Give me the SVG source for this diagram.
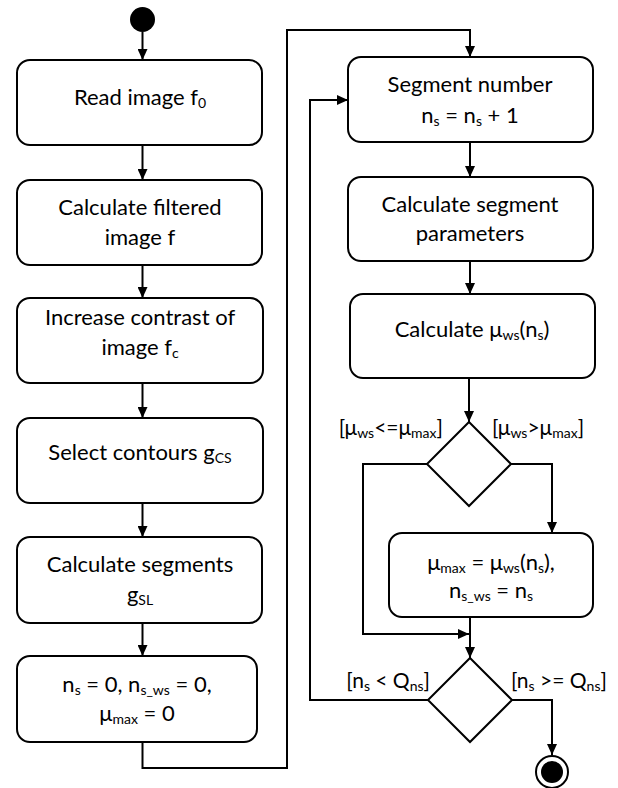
<svg xmlns="http://www.w3.org/2000/svg" width="618" height="788" viewBox="0 0 618 788">
<style>
.box{fill:#fff;stroke:#000;stroke-width:2}
.dia{fill:#fff;stroke:#000;stroke-width:2}
.t{font-family:Lato,"Open Sans","Liberation Sans",sans-serif;font-size:22px;fill:#000;text-anchor:middle}
.lbl{font-family:Lato,"Open Sans","Liberation Sans",sans-serif;font-size:21px;fill:#000}
.s{font-size:14px}
.c{fill:none;stroke:#000;stroke-width:2}
</style>
<defs>
<marker id="arr" markerUnits="userSpaceOnUse" markerWidth="11" markerHeight="10" refX="11" refY="5" orient="auto">
<path d="M0,0 L11,5 L0,10 z" fill="#000"/>
</marker>
</defs>
<g id="connectors">
<path class="c" d="M142.5,32 V60" marker-end="url(#arr)"/>
<path class="c" d="M142.5,145 V180" marker-end="url(#arr)"/>
<path class="c" d="M142.5,265 V298" marker-end="url(#arr)"/>
<path class="c" d="M142.5,383 V418" marker-end="url(#arr)"/>
<path class="c" d="M142.5,503 V537" marker-end="url(#arr)"/>
<path class="c" d="M142.5,623 V656" marker-end="url(#arr)"/>
<path class="c" d="M142.5,742 V768 H287 V30 H470 V57" marker-end="url(#arr)"/>
<path class="c" d="M470,142 V177" marker-end="url(#arr)"/>
<path class="c" d="M470,261 V294" marker-end="url(#arr)"/>
<path class="c" d="M469,378 V422" marker-end="url(#arr)"/>
<path class="c" d="M511,464 H552 V533" marker-end="url(#arr)"/>
<path class="c" d="M427,464 H363 V634 H469" marker-end="url(#arr)"/>
<path class="c" d="M470,617 V658" marker-end="url(#arr)"/>
<path class="c" d="M428,700 H310 V100 H348" marker-end="url(#arr)"/>
<path class="c" d="M512,700 H552 V755" marker-end="url(#arr)"/>
<text class="lbl" x="443" y="435" text-anchor="end">[μ<tspan class="s" dy="3">ws</tspan><tspan dy="-3">&lt;=μ</tspan><tspan class="s" dy="3">max</tspan><tspan dy="-3">]</tspan></text>
<text class="lbl" x="492" y="435">[μ<tspan class="s" dy="3">ws</tspan><tspan dy="-3">&gt;μ</tspan><tspan class="s" dy="3">max</tspan><tspan dy="-3">]</tspan></text>
<text class="lbl" x="430" y="688" text-anchor="end">[n<tspan class="s" dy="3">s</tspan><tspan dy="-3"> &lt; Q</tspan><tspan class="s" dy="3">ns</tspan><tspan dy="-3">]</tspan></text>
<text class="lbl" x="511" y="688">[n<tspan class="s" dy="3">s</tspan><tspan dy="-3"> &gt;= Q</tspan><tspan class="s" dy="3">ns</tspan><tspan dy="-3">]</tspan></text>
</g>
<g id="start"><circle cx="142.5" cy="19.5" r="12.5" fill="#000"/></g>
<g id="read">
<rect class="box" x="17" y="60" width="245" height="85" rx="13"/>
<text class="t" x="140" y="105">Read image f<tspan class="s" dy="3">0</tspan></text>
</g>
<g id="filter">
<rect class="box" x="17" y="180" width="245" height="85" rx="13"/>
<text class="t" x="140" y="215">Calculate filtered</text>
<text class="t" x="140" y="245">image f</text>
</g>
<g id="contrast">
<rect class="box" x="17" y="298" width="246" height="85" rx="13"/>
<text class="t" x="140" y="325">Increase contrast of</text>
<text class="t" x="140" y="355">image f<tspan class="s" dy="3">c</tspan></text>
</g>
<g id="contours">
<rect class="box" x="17" y="418" width="246" height="85" rx="13"/>
<text class="t" x="140" y="460">Select contours g<tspan class="s" dy="3">CS</tspan></text>
</g>
<g id="segments">
<rect class="box" x="17" y="537" width="245" height="86" rx="13"/>
<text class="t" x="140" y="572">Calculate segments</text>
<text class="t" x="140" y="602">g<tspan class="s" dy="3">SL</tspan></text>
</g>
<g id="init">
<rect class="box" x="17" y="656" width="240" height="86" rx="13"/>
<text class="t" x="137" y="692">n<tspan class="s" dy="3">s</tspan><tspan dy="-3"> = 0, n</tspan><tspan class="s" dy="3">s_ws</tspan><tspan dy="-3"> = 0,</tspan></text>
<text class="t" x="137" y="721">μ<tspan class="s" dy="3">max</tspan><tspan dy="-3"> = 0</tspan></text>
</g>
<g id="segnum">
<rect class="box" x="348" y="57" width="245" height="85" rx="13"/>
<text class="t" x="470" y="92">Segment number</text>
<text class="t" x="470" y="123">n<tspan class="s" dy="3">s</tspan><tspan dy="-3"> = n</tspan><tspan class="s" dy="3">s</tspan><tspan dy="-3"> + 1</tspan></text>
</g>
<g id="params">
<rect class="box" x="348" y="177" width="245" height="84" rx="13"/>
<text class="t" x="470" y="212">Calculate segment</text>
<text class="t" x="470" y="241">parameters</text>
</g>
<g id="muws">
<rect class="box" x="350" y="294" width="245" height="84" rx="13"/>
<text class="t" x="472" y="337">Calculate μ<tspan class="s" dy="3">ws</tspan><tspan dy="-3">(n</tspan><tspan class="s" dy="3">s</tspan><tspan dy="-3">)</tspan></text>
</g>
<g id="decision1"><polygon class="dia" points="469,422 511,464 469,506 427,464"/></g>
<g id="update">
<rect class="box" x="389" y="533" width="204" height="84" rx="13"/>
<text class="t" x="491" y="570">μ<tspan class="s" dy="3">max</tspan><tspan dy="-3"> = μ</tspan><tspan class="s" dy="3">ws</tspan><tspan dy="-3">(n</tspan><tspan class="s" dy="3">s</tspan><tspan dy="-3">),</tspan></text>
<text class="t" x="491" y="598">n<tspan class="s" dy="3">s_ws</tspan><tspan dy="-3"> = n</tspan><tspan class="s" dy="3">s</tspan></text>
</g>
<g id="decision2"><polygon class="dia" points="470,658 512,700 470,742 428,700"/></g>
<g id="end">
<circle cx="552" cy="772" r="16" fill="#fff" stroke="#000" stroke-width="2"/>
<circle cx="552" cy="772" r="11" fill="#000"/>
</g>
</svg>
